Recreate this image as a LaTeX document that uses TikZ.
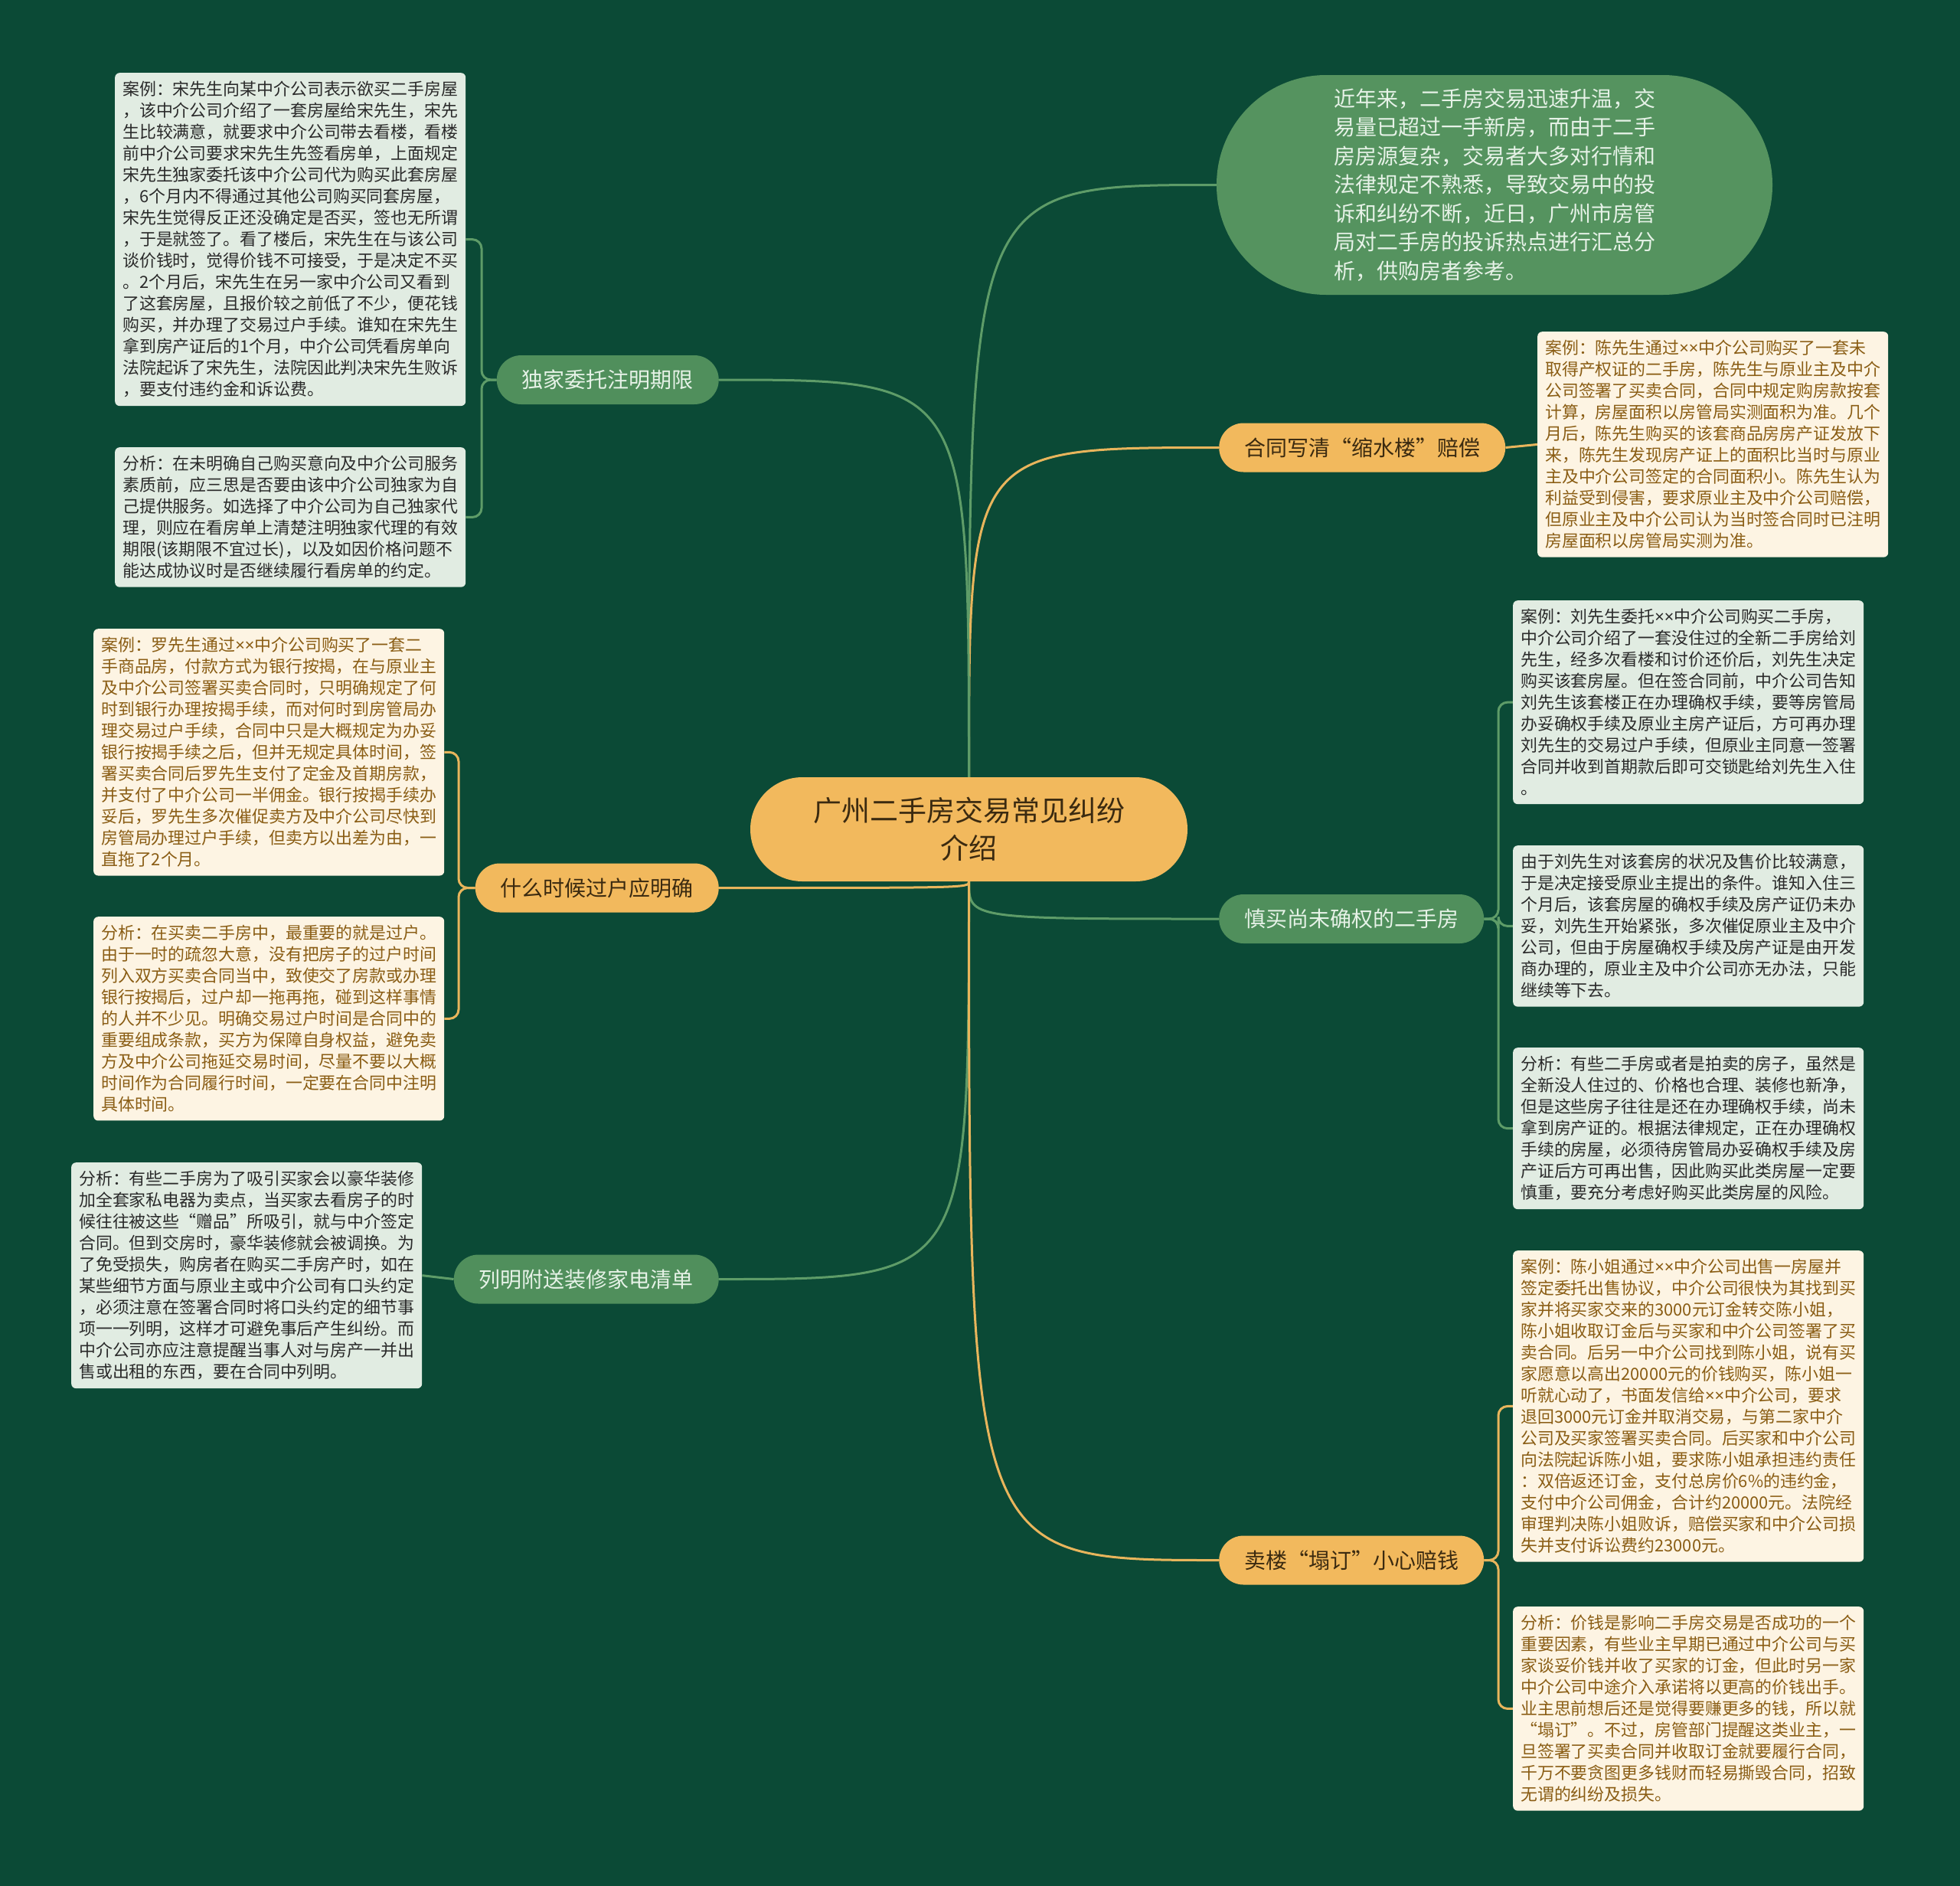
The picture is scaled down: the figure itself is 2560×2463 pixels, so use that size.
\documentclass[tikz,border=0pt]{standalone}
\usepackage{fontspec}
\setmainfont{Noto Sans CJK SC}
\newfontfamily\latinfont{Noto Sans}
\newcommand\mytimes{{\latinfont ×}}
\usetikzlibrary{calc}
\definecolor{bgc}{HTML}{0B4A36}
\definecolor{gfill}{HTML}{508F5C}
\definecolor{pillfill}{HTML}{55935F}
\definecolor{gtext}{HTML}{E6F2E7}
\definecolor{ofill}{HTML}{F2B95D}
\definecolor{otext}{HTML}{3B2A10}
\definecolor{lgfill}{HTML}{E1ECE2}
\definecolor{lgtext}{HTML}{2A2A2A}
\definecolor{crfill}{HTML}{FDF4E3}
\definecolor{crtext}{HTML}{8A5D14}
\definecolor{gline}{HTML}{5E9C68}
\definecolor{oline}{HTML}{E8B55C}
\pgfdeclarelayer{bgl}
\pgfdeclarelayer{lines}
\pgfsetlayers{bgl,lines,main}
\begin{document}
\begin{tikzpicture}[x=1pt,y=-1pt,
  boxbase/.style={anchor=north west, rounded corners=6pt, text width=438pt, inner xsep=10pt, inner ysep=11pt, align=left, font=\fontsize{21.9pt}{28pt}\selectfont},
  boxg/.style={boxbase, fill=lgfill, text=lgtext},
  boxo/.style={boxbase, fill=crfill, text=crtext},
  brbase/.style={rounded corners=32pt, minimum height=64pt, inner xsep=33pt, font=\fontsize{28pt}{34pt}\selectfont},
  brg/.style={brbase, fill=gfill, text=gtext},
  bro/.style={brbase, fill=ofill, text=otext},
  gconn/.style={draw=gline, line width=3pt},
  oconn/.style={draw=oline, line width=3pt},
  subc/.style={rounded corners=12pt}
]
\useasboundingbox (0,0) rectangle (2560,2463);
\begin{pgfonlayer}{bgl}
\fill[bgc] (0,0) rectangle (2560,2463);
\end{pgfonlayer}

% center
\node[fill=ofill, text=otext, rounded corners=68pt, minimum width=571pt, minimum height=136pt, align=center, font=\fontsize{37pt}{49pt}\selectfont] (c) at (1265.5,1083) {广州二手房交易常见纠纷\\介绍};

% intro pill
\node[fill=pillfill, text=gtext, rounded corners=143pt, minimum width=726pt, minimum height=287pt, text width=420pt, align=left, font=\fontsize{28pt}{37.5pt}\selectfont] (pill) at (1952,241.5) {近年来，二手房交易迅速升温，交\\易量已超过一手新房，而由于二手\\房房源复杂，交易者大多对行情和\\法律规定不熟悉，导致交易中的投\\诉和纠纷不断，近日，广州市房管\\局对二手房的投诉热点进行汇总分\\析，供购房者参考。};

% branches
\node[brg, anchor=east] (dujia) at (939,496) {独家委托注明期限};
\node[bro, anchor=east] (shenme) at (939,1159.5) {什么时候过户应明确};
\node[brg, anchor=east] (lieming) at (939,1670.5) {列明附送装修家电清单};
\node[bro, anchor=west] (hetong) at (1592,584.5) {合同写清“缩水楼”赔偿};
\node[brg, anchor=west] (shenmai) at (1592,1200) {慎买尚未确权的二手房};
\node[bro, anchor=west] (mailou) at (1592,2037.5) {卖楼“塌订”小心赔钱};

% left boxes
\node[boxg] (b1) at (150,95) {案例：宋先生向某中介公司表示欲买二手房屋\\，该中介公司介绍了一套房屋给宋先生，宋先\\生比较满意，就要求中介公司带去看楼，看楼\\前中介公司要求宋先生先签看房单，上面规定\\宋先生独家委托该中介公司代为购买此套房屋\\，6个月内不得通过其他公司购买同套房屋，\\宋先生觉得反正还没确定是否买，签也无所谓\\，于是就签了。看了楼后，宋先生在与该公司\\谈价钱时，觉得价钱不可接受，于是决定不买\\。2个月后，宋先生在另一家中介公司又看到\\了这套房屋，且报价较之前低了不少，便花钱\\购买，并办理了交易过户手续。谁知在宋先生\\拿到房产证后的1个月，中介公司凭看房单向\\法院起诉了宋先生，法院因此判决宋先生败诉\\，要支付违约金和诉讼费。};
\node[boxg] (b2) at (150,584) {分析：在未明确自己购买意向及中介公司服务\\素质前，应三思是否要由该中介公司独家为自\\己提供服务。如选择了中介公司为自己独家代\\理，则应在看房单上清楚注明独家代理的有效\\期限(该期限不宜过长)，以及如因价格问题不\\能达成协议时是否继续履行看房单的约定。};
\node[boxo] (b3) at (122,821) {案例：罗先生通过\mytimes\mytimes 中介公司购买了一套二\\手商品房，付款方式为银行按揭，在与原业主\\及中介公司签署买卖合同时，只明确规定了何\\时到银行办理按揭手续，而对何时到房管局办\\理交易过户手续，合同中只是大概规定为办妥\\银行按揭手续之后，但并无规定具体时间，签\\署买卖合同后罗先生支付了定金及首期房款，\\并支付了中介公司一半佣金。银行按揭手续办\\妥后，罗先生多次催促卖方及中介公司尽快到\\房管局办理过户手续，但卖方以出差为由，一\\直拖了2个月。};
\node[boxo] (b4) at (122,1197) {分析：在买卖二手房中，最重要的就是过户。\\由于一时的疏忽大意，没有把房子的过户时间\\列入双方买卖合同当中，致使交了房款或办理\\银行按揭后，过户却一拖再拖，碰到这样事情\\的人并不少见。明确交易过户时间是合同中的\\重要组成条款，买方为保障自身权益，避免卖\\方及中介公司拖延交易时间，尽量不要以大概\\时间作为合同履行时间，一定要在合同中注明\\具体时间。};
\node[boxg] (b5) at (93,1518) {分析：有些二手房为了吸引买家会以豪华装修\\加全套家私电器为卖点，当买家去看房子的时\\候往往被这些“赠品”所吸引，就与中介签定\\合同。但到交房时，豪华装修就会被调换。为\\了免受损失，购房者在购买二手房产时，如在\\某些细节方面与原业主或中介公司有口头约定\\，必须注意在签署合同时将口头约定的细节事\\项一一列明，这样才可避免事后产生纠纷。而\\中介公司亦应注意提醒当事人对与房产一并出\\售或出租的东西，要在合同中列明。};

% right boxes
\node[boxo] (b7) at (2008,433) {案例：陈先生通过\mytimes\mytimes 中介公司购买了一套未\\取得产权证的二手房，陈先生与原业主及中介\\公司签署了买卖合同，合同中规定购房款按套\\计算，房屋面积以房管局实测面积为准。几个\\月后，陈先生购买的该套商品房房产证发放下\\来，陈先生发现房产证上的面积比当时与原业\\主及中介公司签定的合同面积小。陈先生认为\\利益受到侵害，要求原业主及中介公司赔偿，\\但原业主及中介公司认为当时签合同时已注明\\房屋面积以房管局实测为准。};
\node[boxg] (b8) at (1976,784) {案例：刘先生委托\mytimes\mytimes 中介公司购买二手房，\\中介公司介绍了一套没住过的全新二手房给刘\\先生，经多次看楼和讨价还价后，刘先生决定\\购买该套房屋。但在签合同前，中介公司告知\\刘先生该套楼正在办理确权手续，要等房管局\\办妥确权手续及原业主房产证后，方可再办理\\刘先生的交易过户手续，但原业主同意一签署\\合同并收到首期款后即可交锁匙给刘先生入住\\。};
\node[boxg] (b9) at (1976,1104) {由于刘先生对该套房的状况及售价比较满意，\\于是决定接受原业主提出的条件。谁知入住三\\个月后，该套房屋的确权手续及房产证仍未办\\妥，刘先生开始紧张，多次催促原业主及中介\\公司，但由于房屋确权手续及房产证是由开发\\商办理的，原业主及中介公司亦无办法，只能\\继续等下去。};
\node[boxg] (b10) at (1976,1368) {分析：有些二手房或者是拍卖的房子，虽然是\\全新没人住过的、价格也合理、装修也新净，\\但是这些房子往往是还在办理确权手续，尚未\\拿到房产证的。根据法律规定，正在办理确权\\手续的房屋，必须待房管局办妥确权手续及房\\产证后方可再出售，因此购买此类房屋一定要\\慎重，要充分考虑好购买此类房屋的风险。};
\node[boxo] (b11) at (1976,1633) {案例：陈小姐通过\mytimes\mytimes 中介公司出售一房屋并\\签定委托出售协议，中介公司很快为其找到买\\家并将买家交来的3000元订金转交陈小姐，\\陈小姐收取订金后与买家和中介公司签署了买\\卖合同。后另一中介公司找到陈小姐，说有买\\家愿意以高出20000元的价钱购买，陈小姐一\\听就心动了，书面发信给\mytimes\mytimes 中介公司，要求\\退回3000元订金并取消交易，与第二家中介\\公司及买家签署买卖合同。后买家和中介公司\\向法院起诉陈小姐，要求陈小姐承担违约责任\\：双倍返还订金，支付总房价6\%的违约金，\\支付中介公司佣金，合计约20000元。法院经\\审理判决陈小姐败诉，赔偿买家和中介公司损\\失并支付诉讼费约23000元。};
\node[boxo] (b12) at (1976,2098) {分析：价钱是影响二手房交易是否成功的一个\\重要因素，有些业主早期已通过中介公司与买\\家谈妥价钱并收了买家的订金，但此时另一家\\中介公司中途介入承诺将以更高的价钱出手。\\业主思前想后还是觉得要赚更多的钱，所以就\\“塌订”。不过，房管部门提醒这类业主，一\\旦签署了买卖合同并收取订金就要履行合同，\\千万不要贪图更多钱财而轻易撕毁合同，招致\\无谓的纠纷及损失。};

\begin{pgfonlayer}{lines}
% main connectors
\draw[gconn] (c.north) .. controls (c.north |- pill.west) .. (pill.west);
\draw[oconn] (c.north) .. controls (c.north |- hetong.west) .. (hetong.west);
\draw[gconn] (c.north) .. controls (c.north |- dujia.east) .. (dujia.east);
\draw[oconn] (c.south) .. controls (c.south |- shenme.east) .. (shenme.east);
\draw[gconn] (c.south) .. controls (c.south |- shenmai.west) .. (shenmai.west);
\draw[gconn] (c.south) .. controls (c.south |- lieming.east) .. (lieming.east);
\draw[oconn] (c.south) .. controls (c.south |- mailou.west) .. (mailou.west);
% sub connectors
\draw[gconn, subc] (dujia.west) -- (629,496) |- (b1.east);
\draw[gconn, subc] (dujia.west) -- (629,496) |- (b2.east);
\draw[oconn, subc] (shenme.west) -- (599,1159.5) |- (b3.east);
\draw[oconn, subc] (shenme.west) -- (599,1159.5) |- (b4.east);
\draw[gconn] (lieming.west) -- (b5.east);
\draw[oconn] (hetong.east) -- (b7.west);
\draw[gconn, subc] (shenmai.east) -- (1957,1200) |- (b8.west);
\draw[gconn, subc] (shenmai.east) -- (1957,1200) |- (b9.west);
\draw[gconn, subc] (shenmai.east) -- (1957,1200) |- (b10.west);
\draw[oconn, subc] (mailou.east) -- (1957,2037.5) |- (b11.west);
\draw[oconn, subc] (mailou.east) -- (1957,2037.5) |- (b12.west);
\end{pgfonlayer}
\end{tikzpicture}
\end{document}
